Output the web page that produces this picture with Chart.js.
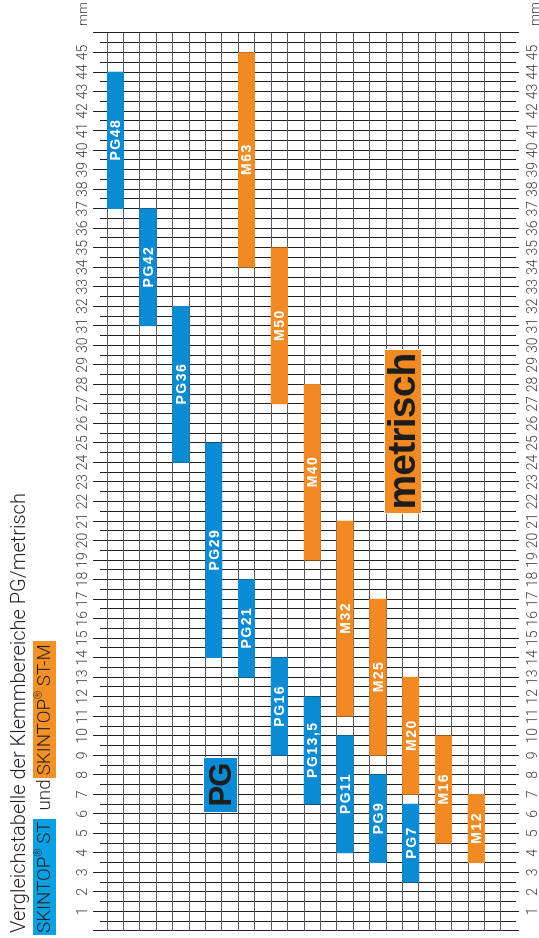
<!DOCTYPE html>
<html>
<head>
<meta charset="utf-8">
<title>Vergleichstabelle der Klemmbereiche PG/metrisch</title>
<script src="https://cdn.jsdelivr.net/npm/chart.js@4.4.1/dist/chart.umd.min.js"></script>
<style>
  html, body { margin: 0; padding: 0; background: #fff; }
  body { width: 539px; height: 938px; overflow: hidden; position: relative; }
  /* the sheet is laid out in reading direction and turned by -90deg */
  #sheet {
    position: absolute; left: 0; top: 0; width: 938px; height: 550px;
    transform-origin: 0 0; transform: translate(0, 938px) rotate(-90deg);
    font-family: Roboto, "Liberation Sans", Arial, sans-serif; color: #231f20;
  }
  #plot { position: absolute; left: 0; top: 0; }
  #title1 {
    position: absolute; left: 5px; top: 8px; white-space: nowrap;
    font-size: 20px; font-weight: 300; line-height: 20px;
  }
  #title2 {
    position: absolute; left: 3px; top: 33px; display: flex; white-space: nowrap;
    font-size: 18.8px; font-weight: 300; line-height: 23px;
  }
  #title2 span { display: inline-block; height: 23px; }
  #title2 .st { background: #0ba0e2; padding: 0 2px; }
  #title2 .und { margin: 0 1px 0 9px; }
  #title2 .stm { background: #f39127; padding: 0 3px; }
  #title2 sup { font-size: 0.55em; vertical-align: 0; position: relative; top: -0.75em; }
  .tag {
    position: absolute; box-sizing: border-box; border: 1px solid #fff;
    font-family: "Liberation Sans", Arial, sans-serif; font-weight: bold;
    text-align: center; color: #1d1d1b; white-space: nowrap;
  }
  #pgTag { left: 125px; top: 203px; width: 56px; height: 35px; background: #0a8bd3;
    font-size: 31px; line-height: 33px; letter-spacing: -1px; }
  #mTag { left: 424px; top: 384px; width: 165px; height: 38px; background: #f28a24;
    font-size: 39px; line-height: 34px; letter-spacing: -0.8px; }
  .mm { position: absolute; left: 910px; width: 28px; text-align: center;
    font-size: 13.5px; font-weight: 300; line-height: 14px; color: #3c3c3c; }
</style>
</head>
<body>
<div id="sheet">
  <canvas id="plot" width="938" height="550"></canvas>
  <div id="title1">Vergleichstabelle der Klemmbereiche PG/metrisch</div>
  <div id="title2"><span class="st">SKINTOP<sup>®</sup> ST</span><span class="und">und</span><span class="stm">SKINTOP<sup>®</sup> ST-M</span></div>
  <div class="tag" id="pgTag">PG</div>
  <div class="tag" id="mTag">metrisch</div>
  <div class="mm" style="top: 75px;">mm</div>
  <div class="mm" style="top: 527px;">mm</div>
</div>
<script>
// one row per column of the grid (values in mm)
var columns = ['1', '2', '3', '4', '5', '6', '7', '8', '9', '10', '11', '12',
  '13', '14', '15', '16', '17', '18', '19', '20', '21', '22', '23', '24'];

var pgNames = ['PG48', '', 'PG42', '', 'PG36', '', 'PG29', '', 'PG21', '', 'PG16', '',
  'PG13,5', '', 'PG11', '', 'PG9', '', 'PG7', '', '', '', '', ''];
var pgRanges = [[37, 44], null, [31, 37], null, [24, 32], null, [14, 25], null, [13, 18], null,
  [9, 14], null, [6.5, 12], null, [4, 10], null, [3.5, 8], null, [2.5, 6.5], null,
  null, null, null, null];

var mNames = ['', '', '', '', '', '', '', '', 'M63', '', 'M50', '', 'M40', '', 'M32', '',
  'M25', '', 'M20', '', 'M16', '', 'M12', ''];
var mRanges = [null, null, null, null, null, null, null, null, [34, 45], null, [27, 35], null,
  [19, 28], null, [11, 21], null, [9, 17], null, [7, 13], null, [4.5, 10], null,
  [3.5, 7], null];

var MM_MIN = 0;
var MM_MAX = 46;
var FIRST_LABEL = 1;
var LAST_LABEL = 45;

var BLUE = '#0a8bd3';
var ORANGE = '#f28a24';
var LINE = '#231f20';
var COLUMN_LINE = '#5a5a5a';
var TICK_FONT = { family: 'Roboto, "Liberation Sans", Arial, sans-serif', size: 14, weight: 300, lineHeight: 1 };

function mmLabel(value) {
  return (value >= FIRST_LABEL && value <= LAST_LABEL) ? String(value) : '';
}

// white names in the middle of each bar
var barLabels = {
  id: 'barLabels',
  afterDatasetsDraw: function (chart) {
    var ctx = chart.ctx;
    ctx.save();
    ctx.font = 'bold 14px "Liberation Sans", Arial, sans-serif';
    ctx.letterSpacing = '1.5px';
    ctx.fillStyle = '#fff';
    ctx.textAlign = 'center';
    ctx.textBaseline = 'middle';
    chart.data.datasets.forEach(function (ds, i) {
      chart.getDatasetMeta(i).data.forEach(function (bar, j) {
        var name = ds.names[j];
        if (!name || ds.data[j] == null) return;
        var p = bar.getProps(['x', 'y', 'base'], true);
        ctx.fillText(name, (p.x + p.base) / 2 + 0.75, p.y + 1);
      });
    });
    ctx.restore();
  }
};

function mmScale(position, weight, step, tickLength, onArea, showLabels, padding) {
  return {
    type: 'linear',
    position: position,
    weight: weight,
    min: MM_MIN,
    max: MM_MAX,
    ticks: {
      display: showLabels,
      stepSize: step,
      autoSkip: false,
      maxRotation: 0,
      minRotation: 0,
      padding: padding,
      color: '#3c3c3c',
      font: TICK_FONT,
      callback: mmLabel,
    },
    grid: {
      color: LINE,
      tickColor: LINE,
      lineWidth: 1,
      tickLength: tickLength,
      drawOnChartArea: onArea,
    },
    border: { display: false },
  };
}

var ctx = document.getElementById('plot').getContext('2d');
new Chart(ctx, {
  type: 'bar',
  data: {
    labels: columns,
    datasets: [{
      label: 'SKINTOP ST (PG)',
      data: pgRanges,
      names: pgNames,
      backgroundColor: BLUE,
      borderWidth: 0,
      grouped: false,
      barPercentage: 1,
      categoryPercentage: 1,
    }, {
      label: 'SKINTOP ST-M (metrisch)',
      data: mRanges,
      names: mNames,
      backgroundColor: ORANGE,
      borderWidth: 0,
      grouped: false,
      barPercentage: 1,
      categoryPercentage: 1,
    }],
  },
  options: {
    indexAxis: 'y',
    responsive: false,
    animation: false,
    layout: { padding: { left: 5, right: 33, top: 73, bottom: 3 } },
    plugins: {
      legend: { display: false },
      tooltip: { enabled: false },
    },
    scales: {
      x: mmScale('top', 0, 0.5, 7, true, false, 0),
      xTop: mmScale('top', 1, 1, 7, false, true, 3),
      xBottomMinor: mmScale('bottom', 0, 0.5, 15, false, false, 0),
      xBottom: mmScale('bottom', 1, 1, 3, false, true, 7),
      y: {
        type: 'category',
        ticks: { display: false },
        grid: { color: COLUMN_LINE, lineWidth: 1, drawTicks: false, offset: true },
        border: { display: false },
      },
    },
  },
  plugins: [barLabels],
});
</script>
</body>
</html>
